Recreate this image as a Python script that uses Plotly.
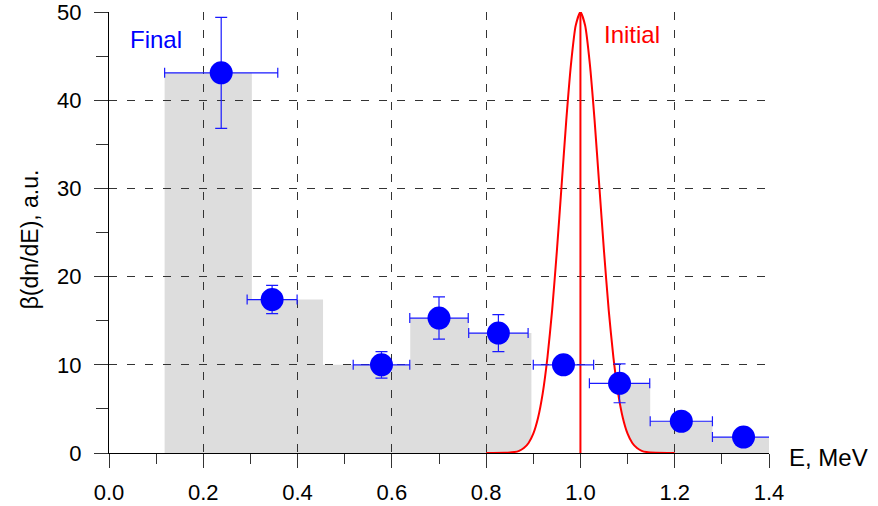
import plotly.graph_objects as go

# ---- data ----
E_points = [0.238, 0.346, 0.578, 0.700, 0.826, 0.964, 1.083, 1.214, 1.346]
final_vals = [43.1, 17.4, 10.0, 15.3, 13.6, 10.0, 7.9, 3.6, 1.8]
final_err_y = [6.3, 1.6, 1.5, 2.4, 2.1, 0.6, 2.2, 0.6, 0.4]
final_err_x = [0.120, 0.053, 0.060, 0.062, 0.063, 0.064, 0.064, 0.066, 0.066]

bin_lo = [0.118, 0.303, 0.454, 0.639, 0.763, 1.020, 1.148, 1.280]
bin_hi = [0.303, 0.454, 0.639, 0.763, 0.896, 1.148, 1.280, 1.413]
bin_h = [43.1, 17.4, 10.0, 15.3, 13.6, 7.9, 3.6, 1.8]

init_E = [0.80, 0.84, 0.86, 0.87, 0.88, 0.89, 0.90, 0.91, 0.92, 0.93, 0.94, 0.95,
          0.96, 0.97, 0.98, 0.99, 1.00, 1.01, 1.02, 1.03, 1.04, 1.05, 1.06, 1.07,
          1.08, 1.09, 1.10, 1.11, 1.12, 1.13, 1.14, 1.16, 1.20]
init_vals = [0.0, 0.02, 0.11, 0.25, 0.56, 1.14, 2.2, 3.98, 6.77, 10.82, 16.2, 22.89,
             30.3, 37.74, 44.1, 48.46, 50.0, 48.46, 44.1, 37.74, 30.3, 22.89, 16.2, 10.82,
             6.77, 3.98, 2.2, 1.14, 0.56, 0.25, 0.11, 0.02, 0.0]
init_center = 1.0
init_peak = 50.0

x_ticks = [0.0, 0.2, 0.4, 0.6, 0.8, 1.0, 1.2, 1.4]
x_ticklabels = ["0.0", "0.2", "0.4", "0.6", "0.8", "1.0", "1.2", "1.4"]
y_ticks = [0, 10, 20, 30, 40, 50]
y_ticklabels = ["0", "10", "20", "30", "40", "50"]

FONT = "Liberation Sans, Arial, sans-serif"

fig = go.Figure()

# grey histogram as one path (below gridlines)
hist_path = " ".join("M %g,0 L %g,%g L %g,%g L %g,0 Z" % (lo, lo, h, hi, h, hi)
                     for lo, hi, h in zip(bin_lo, bin_hi, bin_h))
# white area under the initial curve
init_path = "M %g,0 " % init_E[0] + " ".join("L %g,%g" % (x, y) for x, y in zip(init_E, init_vals)) + " L %g,0 Z" % init_E[-1]
shapes = [
    dict(type="path", xref="x", yref="y", path=hist_path, fillcolor="#dddddd",
         line=dict(width=0), layer="below"),
    dict(type="path", xref="x", yref="y", path=init_path, fillcolor="white",
         line=dict(width=0), layer="below"),
]

# initial curve
fig.add_trace(go.Scatter(x=init_E, y=init_vals, mode="lines",
                         line=dict(color="#ff0000", width=2, shape="spline", smoothing=0.6),
                         showlegend=False, hoverinfo="skip"))
fig.add_trace(go.Scatter(x=[init_center, init_center], y=[0, init_peak], mode="lines",
                         line=dict(color="#ff0000", width=2), showlegend=False, hoverinfo="skip"))

# final points
fig.add_trace(go.Scatter(
    x=E_points, y=final_vals, mode="markers",
    marker=dict(color="#0000ff", size=23, line=dict(width=0)),
    error_y=dict(type="data", array=final_err_y, color="#1a1aff", thickness=1.2, width=6),
    error_x=dict(type="data", array=final_err_x, color="#1a1aff", thickness=1.2, width=5),
    cliponaxis=False, showlegend=False))

fig.update_layout(
    width=878, height=506,
    margin=dict(l=109, r=109, t=12, b=53),
    paper_bgcolor="white", plot_bgcolor="white",
    shapes=shapes,
    font=dict(family=FONT, color="black", size=22),
    showlegend=False,
    annotations=[
        dict(text="Final", x=0.041, y=46.9, xref="x", yref="y", xanchor="left", yanchor="middle",
             showarrow=False, font=dict(family=FONT, size=24, color="#0000ff")),
        dict(text="Initial", x=1.046, y=47.4, xref="x", yref="y", xanchor="left", yanchor="middle",
             showarrow=False, font=dict(family=FONT, size=24, color="#ff0000")),
        dict(text="E, MeV", x=1.0, y=0, xref="paper", yref="y", xanchor="left", yanchor="middle",
             xshift=18, yshift=-4, showarrow=False, font=dict(family=FONT, size=24, color="black")),
        dict(text="β(dn/dE), a.u.", x=-0.12, y=24.2, xref="paper", yref="y", xanchor="center", yanchor="middle",
             textangle=-90, showarrow=False, font=dict(family=FONT, size=23, color="black")),
    ],
)

fig.update_xaxes(
    range=[0, 1.4], tickmode="array", tickvals=x_ticks, ticktext=x_ticklabels,
    showline=True, linecolor="black", linewidth=1, mirror=False, automargin=False,
    ticks="outside", ticklen=14, tickcolor="#333333", tickwidth=1,
    minor=dict(dtick=0.2, tick0=0.1, ticks="outside", ticklen=10, tickcolor="#333333", showgrid=False),
    showgrid=True, gridcolor="#333333", gridwidth=1, griddash="8px,10px",
    zeroline=False, ticklabelstandoff=6, ticklabeloverflow="allow",
    tickfont=dict(family=FONT, size=22, color="black"),
)
fig.update_yaxes(
    range=[0, 50], tickmode="array", tickvals=y_ticks, ticktext=y_ticklabels,
    showline=True, linecolor="black", linewidth=1, mirror=False, automargin=False,
    ticks="outside", ticklen=14, tickcolor="#333333", tickwidth=1,
    minor=dict(dtick=10, tick0=5, ticks="outside", ticklen=12, tickcolor="#333333", showgrid=False),
    showgrid=True, gridcolor="#333333", gridwidth=1, griddash="8px,10px",
    zeroline=False, ticklabelstandoff=8, ticklabeloverflow="allow",
    tickfont=dict(family=FONT, size=22, color="black"),
)

fig.write_html("out.html", config={"displayModeBar": False},
               post_script="document.body.style.margin='0';")
